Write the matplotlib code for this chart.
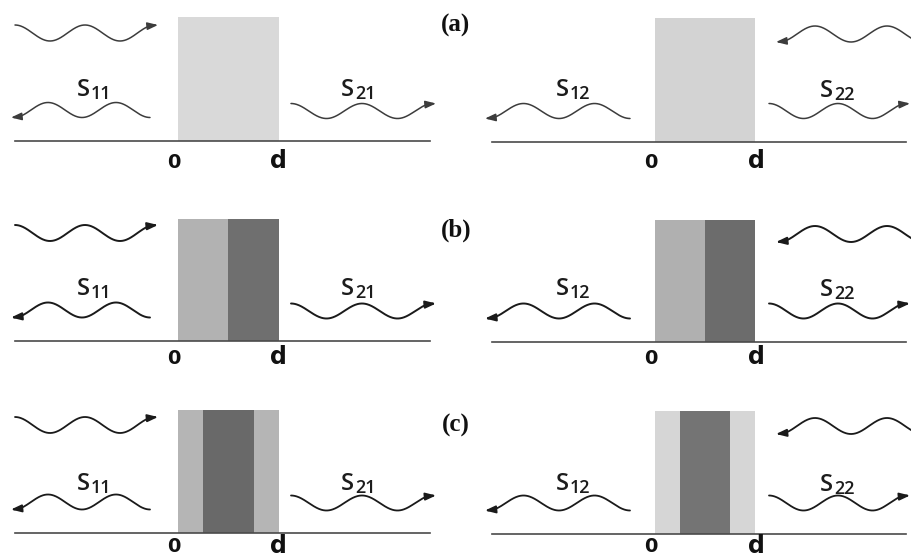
import numpy as np
import matplotlib
matplotlib.use('Agg')
import matplotlib.pyplot as plt

# panels (a), (b), (c): slab made of 1, 2 or 3 layers
panel_labels = ['(a)', '(b)', '(c)']
layer_edges = [[0, 1], [0, 0.5, 1], [0, 0.25, 0.75, 1]]
left_colors = [['#d9d9d9'], ['#b2b2b2', '#6f6f6f'], ['#b5b5b5', '#696969', '#b5b5b5']]
right_colors = [['#d3d3d3'], ['#b0b0b0', '#6c6c6c'], ['#d6d6d6', '#747474', '#d6d6d6']]
left_params = [('S', '11'), ('S', '21')]
right_params = [('S', '12'), ('S', '22')]
tick_texts = ['0', 'd']

# vertical layout of each row (pixels from top)
baseline_y = [141, 341, 533]
slab_top = [17, 219, 410]
incident_y = [33, 233, 425]
reflect_y = [110, 310, 502]
slabel_y = [90, 289, 484]
tick_y = [161, 357, 546]
panel_label_y = [25, 230, 425]

wave_color = ['#3c3c3c', '#1a1a1a', '#1a1a1a']
wave_lw = [1.1, 1.4, 1.3]


def draw_wave(ax, x0, x1, yc, amp, start_top, arrow, color, lw):
    x = np.linspace(x0, x1, 300)
    ph = 2 * np.pi * (x - x0) / ((x1 - x0) / 2)
    if start_top:
        y = yc - amp * np.cos(ph)
    else:
        y = yc + amp * np.cos(ph)
    ax.plot(x, y, color=color, lw=lw, solid_capstyle='round')
    style = dict(arrowstyle='-|>,head_length=0.7,head_width=0.25',
                 color=color, lw=lw, mutation_scale=9, shrinkA=0, shrinkB=0)
    if arrow == 'right':
        ax.annotate('', xy=(x[-1] + 3, y[-1]), xytext=(x[-12], y[-12]), arrowprops=style)
    elif arrow == 'left':
        ax.annotate('', xy=(x[0] - 3, y[0]), xytext=(x[11], y[11]), arrowprops=style)


def draw_slab(ax, xa, xb, top, bottom, edges, colors):
    w = xb - xa
    for i, c in enumerate(colors):
        ax.fill_between([xa + edges[i] * w, xa + edges[i + 1] * w], top, bottom,
                        color=c, lw=0)


def draw_s(ax, x, y, sub):
    ax.text(x, y, 'S', fontsize=17, family='Open Sans', fontweight='semibold',
            color='#1c1c1c', ha='left', va='center')
    ax.text(x + 14, y + 4, sub, fontsize=13, family='Open Sans', fontweight='semibold',
            color='#1c1c1c', ha='left', va='center')


fig = plt.figure(figsize=(9.12, 5.59), dpi=100)
ax = fig.add_axes([0, 0, 1, 1])
ax.set_xlim(0, 912)
ax.set_ylim(559, 0)
ax.axis('off')

for r in range(3):
    base = baseline_y[r]
    col = wave_color[r]
    lw = wave_lw[r]

    # left half: wave coming from the left
    ax.plot([15, 430], [base, base], color='#4a4a4a', lw=1.2)
    draw_slab(ax, 178, 279, slab_top[r], base, layer_edges[r], left_colors[r])
    draw_wave(ax, 15, 155, incident_y[r], 8, True, 'right', col, lw)
    draw_wave(ax, 14, 150, reflect_y[r], 7.5, False, 'left', col, lw)
    draw_wave(ax, 291, 433, reflect_y[r] + 1, 7.5, True, 'right', col, lw)
    draw_s(ax, 77, slabel_y[r], left_params[0][1])
    draw_s(ax, 341, slabel_y[r], left_params[1][1])
    ax.text(174, tick_y[r] + 1, tick_texts[0], fontsize=14, fontweight='bold',
            color='#111111', ha='center', va='center')
    ax.text(278, tick_y[r], tick_texts[1], fontsize=17, fontweight='bold',
            color='#111111', ha='center', va='center')

    # right half: wave coming from the right
    ax.plot([492, 906], [base + 1, base + 1], color='#4a4a4a', lw=1.2)
    draw_slab(ax, 655, 755, slab_top[r] + 1, base + 1, layer_edges[r], right_colors[r])
    draw_wave(ax, 779, 923, incident_y[r] + 1, 8, False, 'left', col, lw)
    draw_wave(ax, 488, 630, reflect_y[r] + 1, 7.5, False, 'left', col, lw)
    draw_wave(ax, 769, 907, reflect_y[r] + 1, 7.5, True, 'right', col, lw)
    draw_s(ax, 556, slabel_y[r], right_params[0][1])
    draw_s(ax, 820, slabel_y[r] + 1, right_params[1][1])
    ax.text(651, tick_y[r] + 1, tick_texts[0], fontsize=14, fontweight='bold',
            color='#111111', ha='center', va='center')
    ax.text(756, tick_y[r], tick_texts[1], fontsize=17, fontweight='bold',
            color='#111111', ha='center', va='center')

    ax.text(456, panel_label_y[r], panel_labels[r], fontsize=18, fontweight='bold',
            family='Liberation Serif', color='#111111', ha='center', va='center')

fig.savefig('out.png', dpi=100)
